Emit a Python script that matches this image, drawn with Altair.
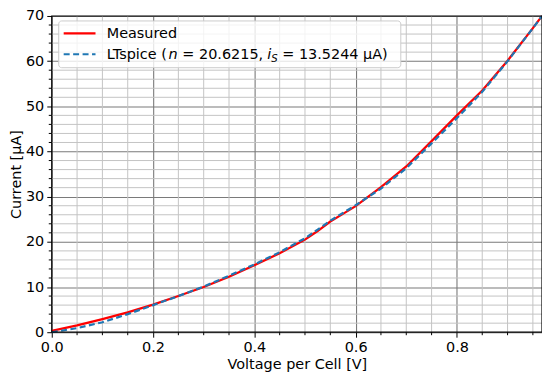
import altair as alt
import pandas as pd

# ---- data ----
v_meas = [0.0, 0.05, 0.1, 0.15, 0.2, 0.25, 0.3, 0.35, 0.4, 0.45, 0.5, 0.525, 0.55, 0.575,
          0.6, 0.65, 0.7, 0.75, 0.8, 0.85, 0.9, 0.95, 0.968]
i_meas = [0.3, 1.5, 2.9, 4.4, 6.1, 8.0, 10.0, 12.3, 14.8, 17.5, 20.5, 22.4, 24.5, 26.2,
          27.9, 32.1, 36.7, 42.3, 48.0, 53.5, 60.1, 67.3, 70.0]
v_sim = [0.0, 0.05, 0.1, 0.15, 0.2, 0.25, 0.3, 0.35, 0.4, 0.45, 0.5, 0.525, 0.55, 0.575,
         0.6, 0.65, 0.7, 0.75, 0.8, 0.85, 0.9, 0.95, 0.968]
i_sim = [0.0, 0.9, 2.2, 4.0, 6.0, 8.0, 10.1, 12.5, 15.0, 17.7, 20.8, 22.7, 24.7, 26.4,
         28.1, 31.8, 36.3, 41.8, 47.4, 53.2, 60.0, 67.3, 70.0]

x_major = [0.0, 0.2, 0.4, 0.6, 0.8]
x_minor = [0.05, 0.1, 0.15, 0.25, 0.3, 0.35, 0.45, 0.5, 0.55, 0.65, 0.7, 0.75, 0.85, 0.9, 0.95]
y_major = [0, 10, 20, 30, 40, 50, 60, 70]
y_minor = [2, 4, 6, 8, 12, 14, 16, 18, 22, 24, 26, 28, 32, 34, 36, 38, 42, 44, 46, 48,
           52, 54, 56, 58, 62, 64, 66, 68]

x_domain = [0.0, 0.968]
y_domain = [0, 70]

# ---- layout ----
W, H = 493, 318
FS = 14.5
FONT = "DejaVu Sans"
RED = "#ff0000"
BLUE = "#1f77b4"
MAJ = "#7a7a7a"
MIN = "#c4c4c4"

xs = alt.Scale(domain=x_domain, nice=False, zero=False)
ys = alt.Scale(domain=y_domain, nice=False, zero=False)

x_axis = alt.Axis(values=x_major, format=".1f", grid=True, gridColor=MAJ, gridWidth=1.1,
                  domain=False, ticks=True, tickSize=5, tickColor="black", tickWidth=1,
                  labelPadding=3, labelFontSize=FS, labelColor="black", labelFont=FONT,
                  labelFlush=False, labelOverlap=False,
                  title="Voltage per Cell [V]", titleFontSize=FS, titleFont=FONT,
                  titleFontWeight="normal", titleColor="black", titlePadding=4)
y_axis = alt.Axis(values=y_major, format="d", grid=True, gridColor=MAJ, gridWidth=1.1,
                  domain=False, ticks=True, tickSize=5, tickColor="black", tickWidth=1,
                  labelPadding=3, labelFontSize=FS, labelColor="black", labelFont=FONT,
                  labelFlush=False, labelOverlap=False,
                  title="Current [μA]", titleFontSize=FS, titleFont=FONT,
                  titleFontWeight="normal", titleColor="black", titlePadding=2)

meas_df = pd.DataFrame({"V": v_meas, "I": i_meas})
sim_df = pd.DataFrame({"V": v_sim, "I": i_sim})
xmin_df = pd.DataFrame({"V": x_minor})
ymin_df = pd.DataFrame({"I": y_minor})
one = pd.DataFrame({"a": [0]})

X = alt.X("V:Q", scale=xs, axis=x_axis)
Y = alt.Y("I:Q", scale=ys, axis=y_axis)

minor_x_grid = alt.Chart(xmin_df).mark_rule(color=MIN, strokeWidth=1).encode(
    x=X, y=alt.value(0), y2=alt.value(H))
minor_y_grid = alt.Chart(ymin_df).mark_rule(color=MIN, strokeWidth=1).encode(
    y=Y, x=alt.value(0), x2=alt.value(W))
minor_x_ticks = alt.Chart(xmin_df).mark_rule(color="black", strokeWidth=1).encode(
    x=X, y=alt.value(H), y2=alt.value(H + 3))
minor_y_ticks = alt.Chart(ymin_df).mark_rule(color="black", strokeWidth=1).encode(
    y=Y, x=alt.value(0), x2=alt.value(-3))

meas_line = alt.Chart(meas_df).mark_line(color=RED, strokeWidth=2.2).encode(
    x=X, y=Y, order="V:Q")
sim_line = alt.Chart(sim_df).mark_line(color=BLUE, strokeWidth=2.2, strokeDash=[6, 3.5]).encode(
    x=X, y=Y, order="V:Q")

frame = alt.Chart(one).mark_rect(fill=None, stroke="black", strokeWidth=1.2).encode(
    x=alt.value(0), x2=alt.value(W), y=alt.value(0), y2=alt.value(H))

# ---- legend (manual, to allow italic math text) ----
LX0, LX1, LY0, LY1 = 7, 351, 5, 52
legend_box = alt.Chart(one).mark_rect(fill="white", fillOpacity=0.8, stroke="#cccccc",
                                      strokeWidth=1, cornerRadius=3).encode(
    x=alt.value(LX0), x2=alt.value(LX1), y=alt.value(LY0), y2=alt.value(LY1))
leg_red = alt.Chart(one).mark_rule(color=RED, strokeWidth=2.2).encode(
    x=alt.value(12), x2=alt.value(44), y=alt.value(17.5))
leg_blue = alt.Chart(one).mark_rule(color=BLUE, strokeWidth=2.2, strokeDash=[6, 3.5]).encode(
    x=alt.value(12), x2=alt.value(44), y=alt.value(38.5))

TX = 55.3
B1, B2 = 22.5, 43.5


def txt(s, dx, base, size=FS, style="normal"):
    return alt.Chart(one).mark_text(text=s, align="left", baseline="alphabetic",
                                    fontSize=size, font=FONT, fontStyle=style,
                                    color="black").encode(
        x=alt.value(TX + dx), y=alt.value(base))


legend_texts = [
    txt("Measured", 0, B1),
    txt("LTspice (", 0, B2),
    txt("n", 62.0, B2, style="italic"),
    txt("= 20.6215,", 76.0, B2),
    txt("i", 161.5, B2, style="italic"),
    txt("S", 165.5, B2 + 3, size=10.2, style="italic"),
    txt("= 13.5244 μA)", 176.5, B2),
]

chart = alt.layer(
    minor_x_grid, minor_y_grid, minor_x_ticks, minor_y_ticks,
    meas_line, sim_line, frame, legend_box, leg_red, leg_blue, *legend_texts
).properties(
    width=W, height=H,
    autosize=alt.AutoSizeParams(type="none"),
    padding={"left": 44, "top": 7, "right": 0, "bottom": 42},
).configure_view(stroke=None).configure(font=FONT, background="white")

chart.save("out.html", embed_options={"renderer": "svg", "actions": False})
